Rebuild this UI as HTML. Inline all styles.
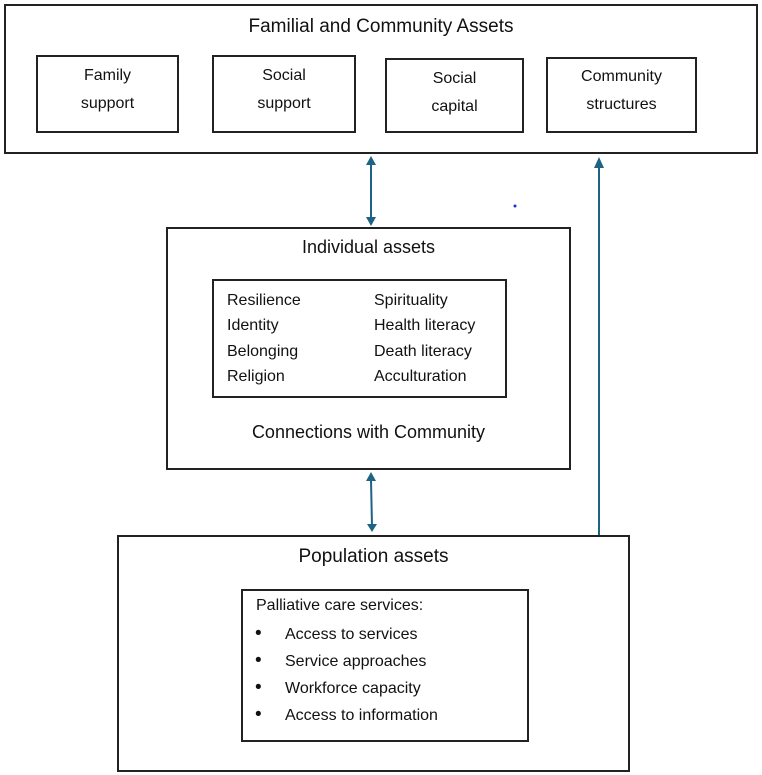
<!DOCTYPE html>
<html><head><style>
html,body{margin:0;padding:0;background:#fff;}
body{width:762px;height:775px;position:relative;overflow:hidden;font-family:"Liberation Sans",sans-serif;color:#111;}
.b{position:absolute;border:2px solid #222;box-sizing:border-box;}
.t{position:absolute;white-space:nowrap;}
.c{position:absolute;text-align:center;font-size:16px;line-height:28px;}
</style></head><body>
<div class="b" style="left:4px;top:4px;width:754px;height:150px;"></div>
<div class="t" style="left:0;width:762px;text-align:center;top:16px;font-size:19px;">Familial and Community Assets</div>
<div class="b" style="left:36px;top:55px;width:143px;height:78px;"></div>
<div class="c" style="left:36px;top:62px;width:143px;">Family<br>support</div>
<div class="b" style="left:212px;top:55px;width:144px;height:78px;"></div>
<div class="c" style="left:212px;top:62px;width:144px;">Social<br>support</div>
<div class="b" style="left:385px;top:58px;width:139px;height:75px;"></div>
<div class="c" style="left:385px;top:65px;width:139px;">Social<br>capital</div>
<div class="b" style="left:546px;top:57px;width:151px;height:76px;"></div>
<div class="c" style="left:546px;top:63px;width:151px;">Community<br>structures</div>

<div class="b" style="left:166px;top:227px;width:405px;height:243px;"></div>
<div class="t" style="left:166px;width:405px;text-align:center;top:237px;font-size:18px;">Individual assets</div>
<div class="b" style="left:212px;top:279px;width:295px;height:119px;"></div>
<div class="t" style="left:227px;top:288px;font-size:16px;line-height:25.3px;">Resilience<br>Identity<br>Belonging<br>Religion</div>
<div class="t" style="left:374px;top:288px;font-size:16px;line-height:25.3px;">Spirituality<br>Health literacy<br>Death literacy<br>Acculturation</div>
<div class="t" style="left:166px;width:405px;text-align:center;top:422px;font-size:18px;">Connections with Community</div>

<div class="b" style="left:117px;top:535px;width:513px;height:237px;"></div>
<div class="t" style="left:117px;width:513px;text-align:center;top:546px;font-size:19px;">Population assets</div>
<div class="b" style="left:241px;top:589px;width:288px;height:153px;"></div>
<div class="t" style="left:256px;top:597px;font-size:16px;">Palliative care services:</div>
<div class="t" style="left:255px;top:620px;font-size:19px;line-height:27px;">•<br>•<br>•<br>•</div>
<div class="t" style="left:285px;top:621px;font-size:16px;line-height:27px;">Access to services<br>Service approaches<br>Workforce capacity<br>Access to information</div>

<svg width="762" height="775" style="position:absolute;left:0;top:0;">
<g stroke="#1f6384" stroke-width="2" fill="#1f6384">
<line x1="371" y1="163" x2="371" y2="219"/>
<polygon points="366,165 376,165 371,156" stroke="none"/>
<polygon points="366,217 376,217 371,226" stroke="none"/>
<line x1="371" y1="480" x2="372" y2="526"/>
<polygon points="366,481 376,481 371,472" stroke="none"/>
<polygon points="367,524 377,524 372,532" stroke="none"/>
<line x1="599" y1="166" x2="599" y2="535"/>
<polygon points="594,168 604,168 599,157" stroke="none"/>
</g>
<circle cx="515" cy="206" r="1.5" fill="#1a2fd0"/>
</svg>
</body></html>
